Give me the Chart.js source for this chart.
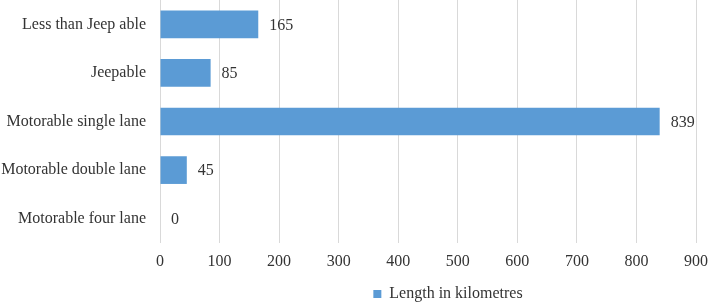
<!DOCTYPE html>
<html><head><meta charset="utf-8">
<script src="https://cdn.jsdelivr.net/npm/chart.js@4"></script>
<style>html,body{margin:0;padding:0;background:#fff}#wrap{width:709px;height:303px}</style>
</head><body><div id="wrap"><canvas id="c" width="709" height="303"></canvas></div>
<script>
const categories = ['Less than Jeep able', 'Jeepable', 'Motorable single lane', 'Motorable double lane', 'Motorable four lane'];
const values = [165, 85, 839, 45, 0];
const seriesName = 'Length in kilometres';
const xMin = 0, xMax = 900, xStep = 100;

const FONT = '"Liberation Serif", "Times New Roman", serif';
const TEXT = '#333333';
const BLUE = '#5B9BD5';

const valueLabels = {
  id: 'valueLabels',
  afterDatasetsDraw(chart) {
    const ctx = chart.ctx;
    const meta = chart.getDatasetMeta(0);
    ctx.save();
    ctx.font = '16px ' + FONT;
    ctx.fillStyle = TEXT;
    ctx.textAlign = 'left';
    ctx.textBaseline = 'middle';
    meta.data.forEach((bar, i) => {
      ctx.fillText(String(values[i]), bar.x + 11, bar.y + 1);
    });
    ctx.restore();
  }
};

const legendShift = {
  id: 'legendShift',
  afterLayout(chart) {
    const l = chart.legend;
    if (!l) return;
    l.left += 100; l.right += 100;
    l.top += 9; l.bottom += 9;
  }
};

new Chart(document.getElementById('c'), {
  type: 'bar',
  data: {
    labels: categories,
    datasets: [{
      label: seriesName,
      data: values,
      backgroundColor: BLUE,
      borderWidth: 0,
      categoryPercentage: 1,
      barPercentage: 0.57
    }]
  },
  options: {
    indexAxis: 'y',
    responsive: false,
    animation: false,
    layout: { padding: { top: 0, right: 13, bottom: 0, left: 0 } },
    scales: {
      x: {
        min: xMin, max: xMax,
        ticks: { stepSize: xStep, color: TEXT, font: { family: FONT, size: 16 }, padding: 9 },
        grid: { color: '#d9d9d9', lineWidth: 1, drawTicks: false },
        border: { display: false },
        afterFit(scale) { scale.height = 24; scale.paddingLeft = 0; scale.paddingRight = 0; }
      },
      y: {
        ticks: { color: TEXT, font: { family: FONT, size: 16 }, padding: 14 },
        grid: { display: false, drawTicks: false },
        border: { display: false },
        afterFit(scale) { scale.width = 160; scale.paddingTop = 0; scale.paddingBottom = 0; }
      }
    },
    plugins: {
      legend: {
        position: 'bottom',
        labels: {
          boxWidth: 8, boxHeight: 8, padding: 10,
          color: TEXT, font: { family: FONT, size: 16 }
        }
      },
      tooltip: { enabled: false }
    }
  },
  plugins: [valueLabels, legendShift]
});
</script>
</body></html>
